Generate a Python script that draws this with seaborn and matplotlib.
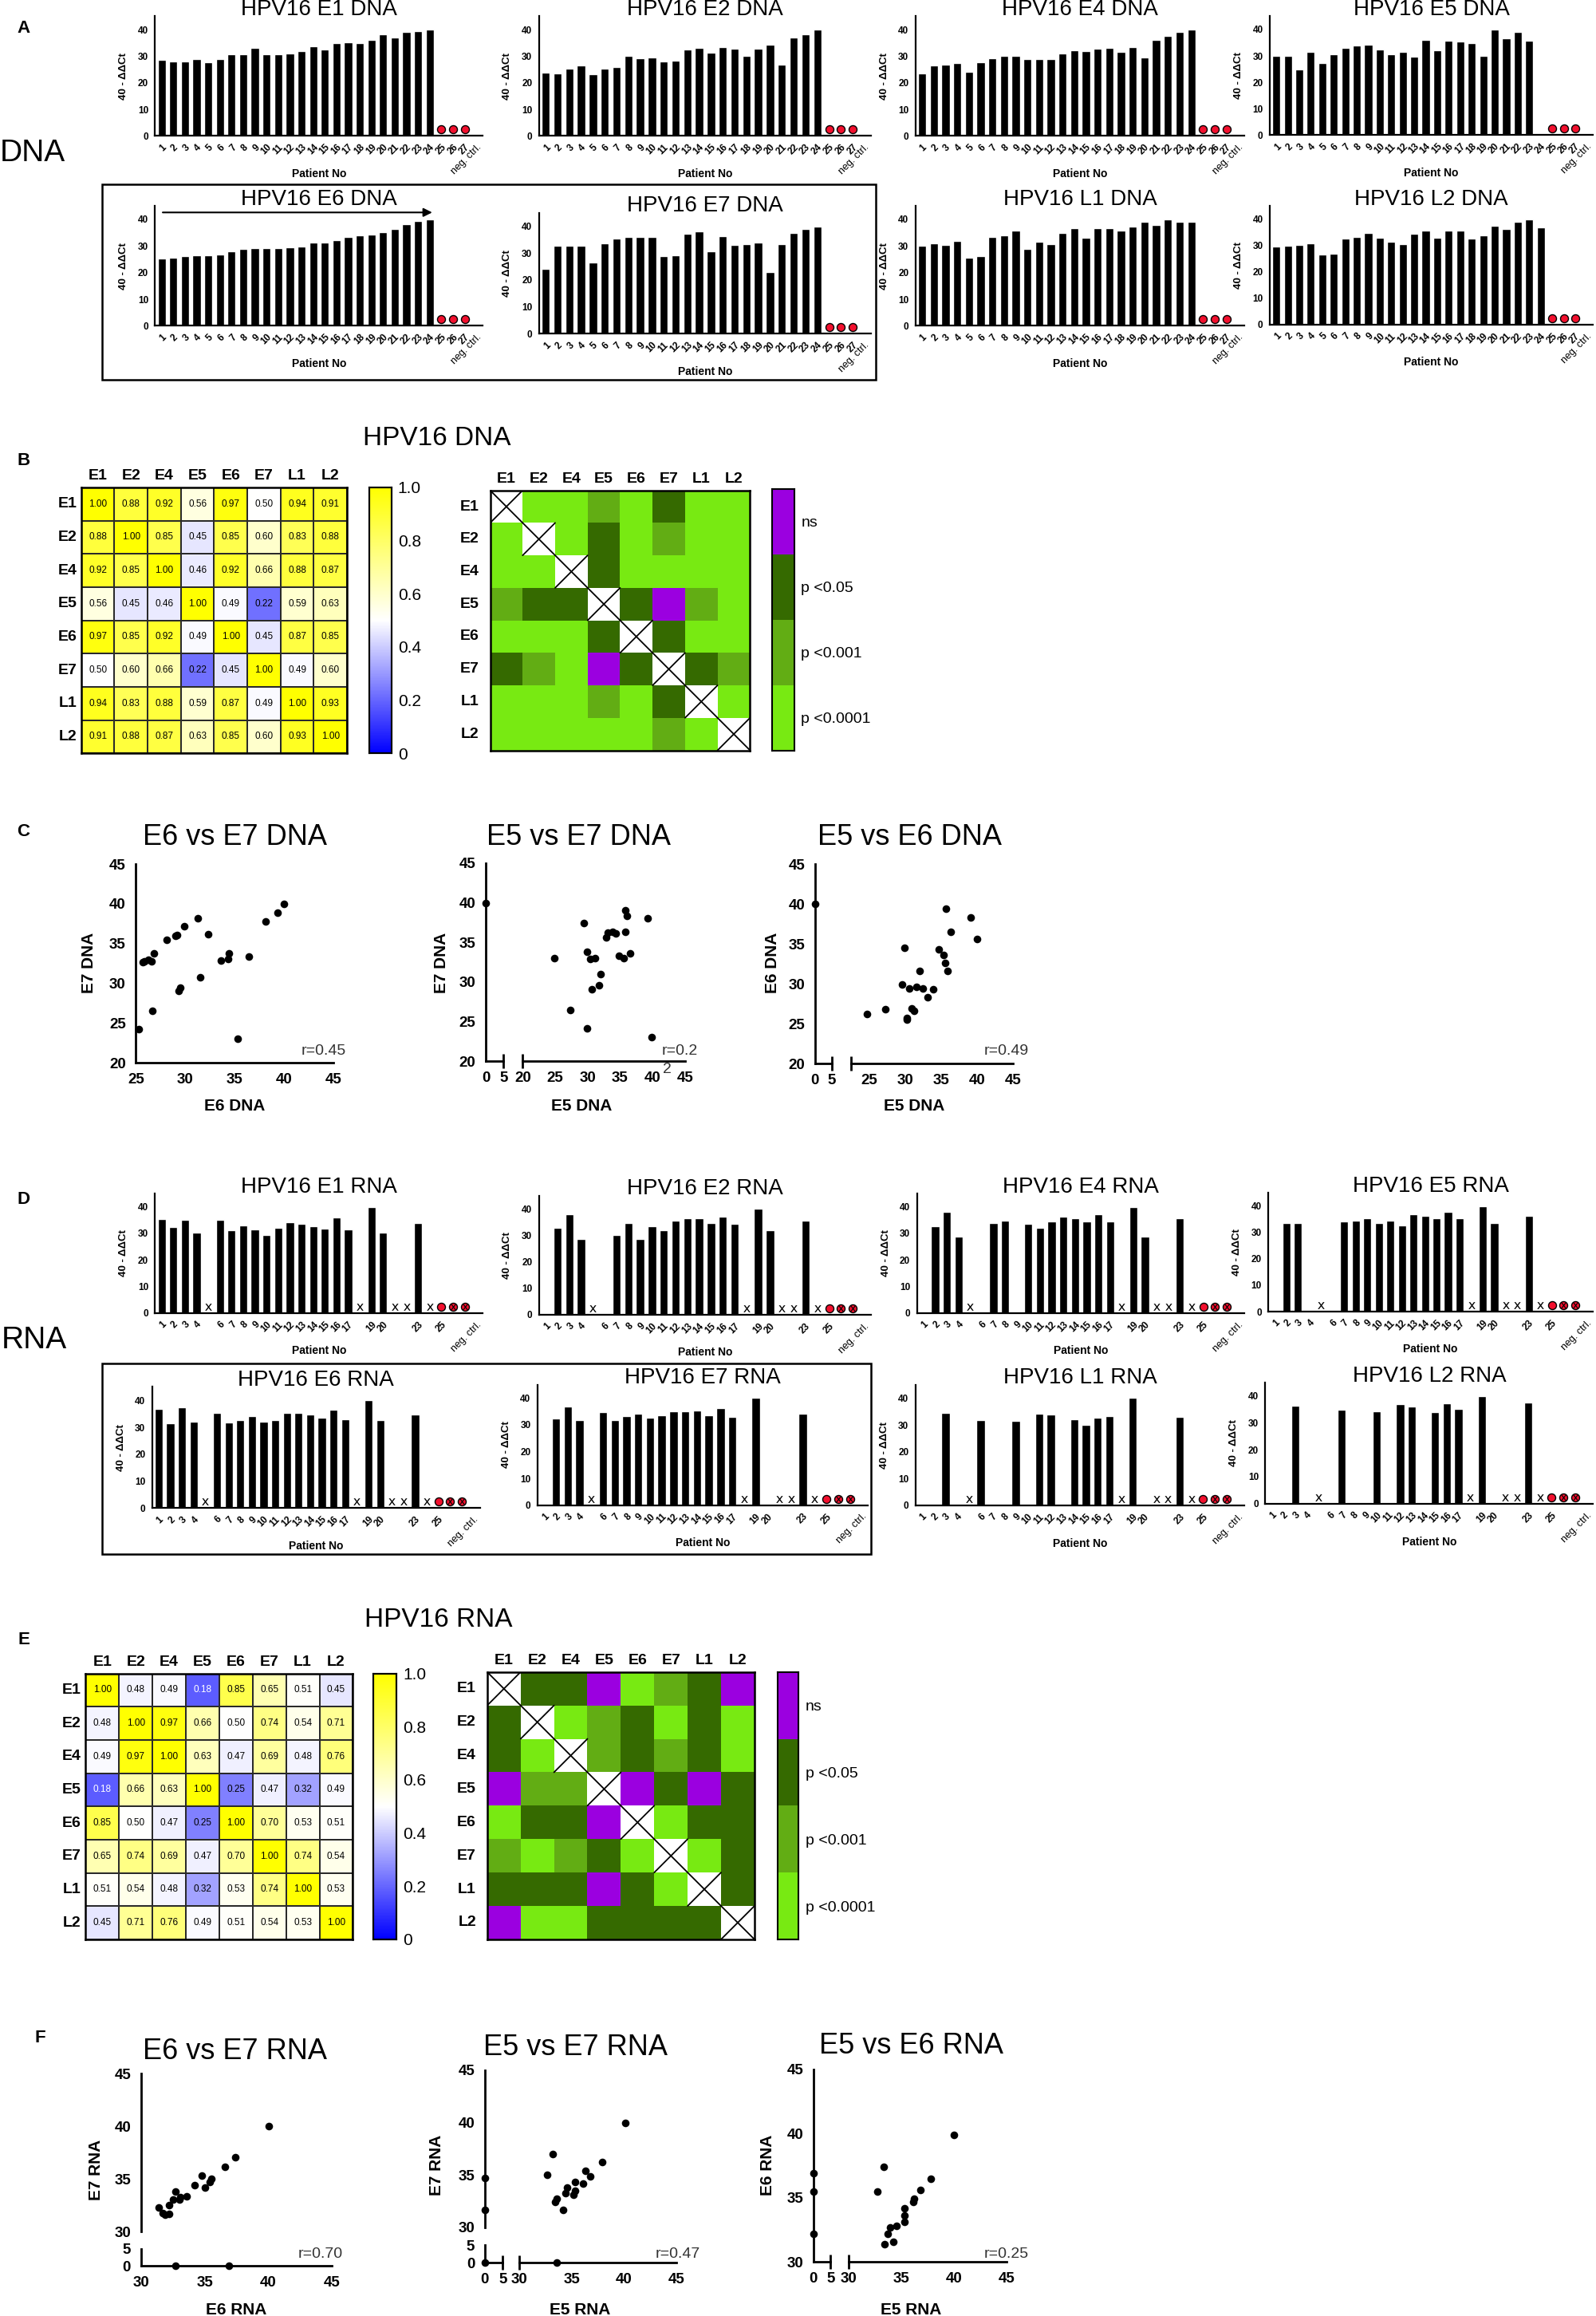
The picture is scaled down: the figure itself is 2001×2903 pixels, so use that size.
import numpy as np
import pandas as pd
import seaborn as sns
import matplotlib.pyplot as plt
from matplotlib.colors import LinearSegmentedColormap, ListedColormap
from matplotlib.patches import Rectangle

sns.set_theme(style='white')
plt.rcParams['font.family'] = ['Liberation Sans', 'DejaVu Sans']
plt.rcParams['text.color'] = 'black'
plt.rcParams['axes.edgecolor'] = 'black'
plt.rcParams['axes.labelcolor'] = 'black'
plt.rcParams['xtick.color'] = 'black'
plt.rcParams['ytick.color'] = 'black'

# ---- data ----
patients = list(range(1, 25))
neg_ctrl_pos = [25, 26, 27]
rna_nd_pos = [5, 18, 21, 22, 24]   # "x" = not detected

dna_e1 = [28.7, 28.1, 27.9, 29.0, 27.7, 29.0, 30.6, 30.8, 33.2, 30.7, 30.7, 31.0, 31.8, 33.6, 32.6, 34.9, 35.2, 34.9, 36.0, 38.3, 36.9, 39.1, 39.4, 40.0]
dna_e2 = [23.8, 23.5, 25.4, 26.6, 23.3, 25.3, 25.9, 30.2, 29.3, 29.6, 27.9, 28.4, 32.5, 33.2, 31.3, 33.5, 32.7, 30.0, 32.8, 34.2, 26.9, 37.0, 38.1, 40.0]
dna_e4 = [23.5, 26.6, 26.7, 27.3, 24.0, 27.8, 29.1, 30.2, 30.0, 28.8, 29.0, 28.8, 31.0, 32.1, 31.9, 32.8, 33.2, 31.5, 33.5, 29.5, 36.0, 37.5, 39.1, 40.0]
dna_e5 = [30.0, 30.1, 24.9, 31.4, 27.3, 30.7, 32.9, 33.9, 34.1, 32.5, 30.5, 31.6, 29.7, 36.0, 32.0, 35.8, 35.5, 34.7, 29.9, 40.0, 36.6, 39.2, 35.8, None]
dna_e6 = [25.3, 25.6, 26.1, 26.6, 26.6, 26.8, 28.1, 29.0, 29.1, 29.3, 29.3, 29.4, 29.7, 31.3, 31.3, 32.3, 33.4, 34.1, 34.3, 35.2, 36.3, 38.1, 39.3, 40.0]
dna_e7 = [24.0, 32.8, 32.8, 32.8, 26.4, 33.7, 35.5, 36.0, 36.0, 36.0, 28.9, 29.3, 37.2, 38.0, 30.8, 36.2, 32.9, 33.2, 33.8, 23.0, 33.4, 37.6, 38.9, 39.9]
dna_l1 = [30.2, 30.9, 30.5, 31.8, 25.6, 26.3, 33.4, 34.1, 35.8, 28.8, 31.5, 30.7, 35.0, 36.6, 33.1, 36.8, 36.8, 35.8, 37.2, 39.1, 38.0, 39.9, 39.0, 39.0]
dna_l2 = [29.5, 29.9, 30.1, 31.0, 26.5, 27.0, 32.6, 33.4, 34.8, 33.0, 31.5, 30.6, 34.4, 35.6, 33.0, 35.8, 35.8, 32.7, 34.0, 37.4, 36.4, 38.9, 39.9, 37.0]

rna_e1 = [35.5, 32.5, 35.1, 30.3, None, 35.0, 31.3, 32.9, 31.5, 29.4, 32.0, 34.3, 33.7, 32.7, 31.9, 35.9, 31.6, None, 40.0, 30.3, None, None, 34.0, None]
rna_e2 = [None, 32.7, 38.0, 28.7, None, None, 30.1, 34.7, 28.7, 33.4, 32.0, 35.5, 36.4, 36.4, 34.5, 37.1, 34.3, None, 40.0, 31.8, None, None, 35.5, None]
rna_e4 = [None, 32.8, 38.1, 28.9, None, None, 33.8, 34.8, None, 33.5, 32.1, 34.6, 36.2, 35.8, 34.5, 37.1, 34.5, None, 40.0, 28.7, None, None, 35.8, None]
rna_e5 = [None, 33.4, 33.4, None, None, None, 34.2, 34.3, 35.2, 33.6, 34.4, 32.6, 36.8, 36.2, 35.2, 37.8, 35.2, None, 40.0, 33.6, None, None, 36.2, None]
rna_e6 = [36.8, 31.4, 37.3, 32.2, None, 35.4, 31.9, 32.7, 34.3, 32.2, 32.6, 35.4, 35.5, 34.7, 33.6, 36.5, 33.1, None, 40.0, 32.7, None, None, 34.9, None]
rna_e7 = [None, 32.2, 36.9, 31.6, None, 34.6, 31.6, 33.2, 34.2, 32.6, 33.6, 35.0, 34.9, 35.3, 33.4, 36.1, 32.9, None, 40.0, None, None, None, 34.0, None]
rna_l1 = [None, None, 34.4, None, None, 31.8, None, None, 31.6, None, 34.1, 33.8, None, 32.2, 30.0, 32.6, 33.3, None, 40.0, None, None, None, 32.9, None]
rna_l2 = [None, None, 36.5, None, None, None, 34.9, None, None, 34.4, None, 37.0, 36.0, None, 33.9, 37.3, 35.2, None, 40.0, None, None, None, 37.5, None]

dna_ticks = [str(i) for i in range(1, 28)] + ['neg. ctrl.']
rna_ticks = ['1', '2', '3', '4', '', '6', '7', '8', '9', '10', '11', '12', '13', '14', '15', '16', '17',
             '', '19', '20', '', '', '23', '', '25', '', '', 'neg. ctrl.']

genes = ['E1', 'E2', 'E4', 'E5', 'E6', 'E7', 'L1', 'L2']
dna_corr = [[1.00, 0.88, 0.92, 0.56, 0.97, 0.50, 0.94, 0.91],
            [0.88, 1.00, 0.85, 0.45, 0.85, 0.60, 0.83, 0.88],
            [0.92, 0.85, 1.00, 0.46, 0.92, 0.66, 0.88, 0.87],
            [0.56, 0.45, 0.46, 1.00, 0.49, 0.22, 0.59, 0.63],
            [0.97, 0.85, 0.92, 0.49, 1.00, 0.45, 0.87, 0.85],
            [0.50, 0.60, 0.66, 0.22, 0.45, 1.00, 0.49, 0.60],
            [0.94, 0.83, 0.88, 0.59, 0.87, 0.49, 1.00, 0.93],
            [0.91, 0.88, 0.87, 0.63, 0.85, 0.60, 0.93, 1.00]]
rna_corr = [[1.00, 0.48, 0.49, 0.18, 0.85, 0.65, 0.51, 0.45],
            [0.48, 1.00, 0.97, 0.66, 0.50, 0.74, 0.54, 0.71],
            [0.49, 0.97, 1.00, 0.63, 0.47, 0.69, 0.48, 0.76],
            [0.18, 0.66, 0.63, 1.00, 0.25, 0.47, 0.32, 0.49],
            [0.85, 0.50, 0.47, 0.25, 1.00, 0.70, 0.53, 0.51],
            [0.65, 0.74, 0.69, 0.47, 0.70, 1.00, 0.74, 0.54],
            [0.51, 0.54, 0.48, 0.32, 0.53, 0.74, 1.00, 0.53],
            [0.45, 0.71, 0.76, 0.49, 0.51, 0.54, 0.53, 1.00]]

# significance: 0 = ns, 1 = p<0.05, 2 = p<0.001, 3 = p<0.0001, None = diagonal
sig_labels = ['ns', 'p <0.05', 'p <0.001', 'p <0.0001']
dna_sig = [[None, 3, 3, 2, 3, 1, 3, 3],
           [3, None, 3, 1, 3, 2, 3, 3],
           [3, 3, None, 1, 3, 3, 3, 3],
           [2, 1, 1, None, 1, 0, 2, 3],
           [3, 3, 3, 1, None, 1, 3, 3],
           [1, 2, 3, 0, 1, None, 1, 2],
           [3, 3, 3, 2, 3, 1, None, 3],
           [3, 3, 3, 3, 3, 2, 3, None]]
rna_sig = [[None, 1, 1, 0, 3, 2, 1, 0],
           [1, None, 3, 2, 1, 3, 1, 3],
           [1, 3, None, 2, 1, 2, 1, 3],
           [0, 2, 2, None, 0, 1, 0, 1],
           [3, 1, 1, 0, None, 3, 1, 1],
           [2, 3, 2, 1, 3, None, 3, 1],
           [1, 1, 1, 0, 1, 3, None, 1],
           [0, 3, 3, 1, 1, 1, 1, None]]

c1_e6 = [25.3, 25.7, 25.9, 26.3, 26.6, 26.8, 26.7, 28.1, 29.0, 29.2, 29.9, 29.3, 29.5, 31.3, 31.5, 32.3, 33.6, 34.3, 34.4, 35.3, 36.4, 38.1, 39.3, 40.0]
c1_e7 = [24.2, 32.7, 32.8, 33.0, 32.8, 33.8, 26.5, 35.5, 36.0, 36.1, 37.2, 29.1, 29.5, 38.2, 30.8, 36.2, 32.9, 33.1, 33.8, 23.0, 33.4, 37.8, 38.9, 40.0]
c2_e5 = [0.0, 24.9, 27.3, 29.4, 29.9, 29.9, 30.4, 30.7, 31.2, 31.7, 32.0, 32.8, 33.1, 33.8, 34.3, 34.8, 35.5, 35.8, 35.8, 36.1, 36.5, 39.2, 39.9]
c2_e7 = [40.0, 33.0, 26.5, 37.4, 24.2, 33.8, 32.9, 29.1, 33.0, 29.6, 31.0, 35.6, 36.2, 36.3, 36.1, 33.3, 33.0, 36.3, 39.1, 38.3, 33.6, 38.0, 23.0]
c3_e5 = [0.0, 24.7, 27.3, 29.6, 29.9, 30.2, 30.3, 30.6, 30.9, 31.3, 31.6, 32.0, 32.5, 33.1, 33.9, 34.7, 35.4, 35.6, 35.9, 35.7, 36.4, 39.1, 40.0]
c3_e6 = [40.0, 26.2, 26.8, 29.9, 34.5, 25.7, 25.5, 29.4, 26.9, 26.6, 29.6, 31.6, 29.4, 28.3, 29.3, 34.3, 33.6, 32.6, 31.6, 39.4, 36.5, 38.3, 35.6]

f1_e6 = [31.4, 31.7, 31.9, 32.2, 32.2, 32.5, 32.7, 33.0, 33.1, 33.6, 34.2, 34.8, 35.0, 35.4, 35.5, 36.6, 37.4, 40.0, 32.7, 36.9]
f1_e7 = [32.3, 31.8, 31.6, 31.7, 32.5, 33.1, 33.8, 33.1, 33.3, 33.4, 34.4, 35.3, 34.2, 34.7, 35.0, 36.2, 37.1, 40.0, 0.0, 0.0]
f2_e5 = [0.0, 0.0, 0.0, 32.7, 33.2, 33.4, 33.6, 34.2, 34.4, 34.6, 35.2, 35.3, 35.3, 36.1, 36.3, 36.8, 37.9, 40.1, 33.6]
f2_e7 = [34.7, 31.7, 0.0, 35.0, 37.0, 32.4, 32.7, 31.7, 33.3, 33.8, 33.1, 33.5, 34.3, 34.2, 35.4, 34.9, 36.2, 40.0, 0.0]
f3_e5 = [0.0, 0.0, 0.0, 32.7, 33.3, 33.4, 33.7, 33.9, 34.2, 34.5, 35.3, 35.3, 35.3, 36.1, 36.2, 36.8, 37.8, 40.0]
f3_e6 = [36.9, 35.5, 32.2, 35.5, 37.4, 31.4, 32.2, 32.7, 31.6, 32.8, 33.1, 33.6, 34.2, 34.7, 34.9, 35.6, 36.5, 39.9]

# ---- figure ----
fig = plt.figure(figsize=(20.01, 29.03), dpi=100)
W, H = 1081.0, 1568.0   # layout grid (reference at reduced scale)


def add_ax(x0, y0, x1, y1):
    return fig.add_axes([x0 / W, 1 - y1 / H, (x1 - x0) / W, (y1 - y0) / H])


def ftext(x, y, s, **kw):
    kw.setdefault('ha', 'center')
    kw.setdefault('va', 'center')
    fig.text(x / W, 1 - y / H, s, **kw)


def box(x0, y0, x1, y1):
    fig.add_artist(Rectangle((x0 / W, 1 - y1 / H), (x1 - x0) / W, (y1 - y0) / H,
                             transform=fig.transFigure, fill=False, lw=1.8, ec='black'))


marker_level = 2.4


def bar_panel(rect, values, title, rna=False, arrow=False):
    ax = add_ax(*rect)
    df = pd.DataFrame({'patient': patients, 'value': values}).dropna()
    sns.barplot(data=df, x='patient', y='value', native_scale=True, color='black',
                saturation=1, width=0.7, errorbar=None, ax=ax)
    sns.scatterplot(x=neg_ctrl_pos, y=[marker_level] * 3, color='#f2102e', edgecolor='black',
                    linewidth=1, s=52, ax=ax, clip_on=False, zorder=4)
    if rna:
        sns.scatterplot(x=rna_nd_pos, y=[marker_level] * len(rna_nd_pos), marker='$\\mathrm{x}$',
                        color='black', s=40, linewidth=0, ax=ax, zorder=4)
        sns.scatterplot(x=neg_ctrl_pos[1:], y=[marker_level] * 2, marker='$\\mathrm{x}$',
                        color='black', s=26, linewidth=0, ax=ax, zorder=5)
    ax.set_xlim(0.43, 28.55)
    ax.set_ylim(0, 45)
    ax.set_yticks([0, 10, 20, 30, 40])
    ax.set_yticklabels(['0', '10', '20', '30', '40'], fontsize=8.5, fontweight='bold')
    ax.set_xticks(range(1, 29))
    ax.set_xticklabels(rna_ticks if rna else dna_ticks, rotation=45, ha='right',
                       rotation_mode='anchor', fontsize=8.5, fontweight='bold')
    last = ax.get_xticklabels()[-1]
    last.set_fontweight('normal')
    last.set_fontsize(9)
    ax.tick_params(axis='both', direction='out', length=4, width=1.4, pad=2)
    sns.despine(ax=ax)
    for s in ['left', 'bottom']:
        ax.spines[s].set_linewidth(1.6)
    ax.set_title(title, fontsize=20, pad=1)
    ax.set_xlabel('Patient No', fontsize=10, fontweight='bold')
    ax.xaxis.set_label_coords(0.5, -0.27)
    ax.set_ylabel('40 - ΔΔCt', fontsize=9.5, fontweight='bold')
    ax.yaxis.set_label_coords(-0.08, 0.5)
    if arrow:
        ax.annotate('', xy=(24.4, 42.6), xytext=(0.9, 42.6),
                    arrowprops=dict(arrowstyle='-|>', color='black', lw=1.5, mutation_scale=16),
                    annotation_clip=False)
    return ax


# panel A: DNA
bar_panel((105, 11, 327, 92), dna_e1, 'HPV16 E1 DNA')
bar_panel((365, 11, 590, 92), dna_e2, 'HPV16 E2 DNA')
bar_panel((620, 11, 843, 92), dna_e4, 'HPV16 E4 DNA')
bar_panel((860, 11, 1079, 91.5), dna_e5, 'HPV16 E5 DNA')
bar_panel((105, 139.5, 327, 220.6), dna_e6, 'HPV16 E6 DNA', arrow=True)
bar_panel((365, 144, 590, 226), dna_e7, 'HPV16 E7 DNA')
bar_panel((620, 139.5, 843, 220.6), dna_l1, 'HPV16 L1 DNA')
bar_panel((860, 139.5, 1079, 219.8), dna_l2, 'HPV16 L2 DNA')
box(69, 125, 593, 257)

# panel D: RNA
bar_panel((105, 808, 327, 889), rna_e1, 'HPV16 E1 RNA', rna=True)
bar_panel((365, 809.5, 590, 890), rna_e2, 'HPV16 E2 RNA', rna=True)
bar_panel((621, 808, 843, 889), rna_e4, 'HPV16 E4 RNA', rna=True)
bar_panel((859, 807.5, 1079, 888), rna_e5, 'HPV16 E5 RNA', rna=True)
bar_panel((103, 939, 325, 1021), rna_e6, 'HPV16 E6 RNA', rna=True)
bar_panel((364, 937.4, 588, 1019), rna_e7, 'HPV16 E7 RNA', rna=True)
bar_panel((620, 937.5, 843, 1019.2), rna_l1, 'HPV16 L1 RNA', rna=True)
bar_panel((857, 936, 1079, 1018), rna_l2, 'HPV16 L2 RNA', rna=True)
box(69, 923, 590, 1052)

# heatmaps
corr_cmap = LinearSegmentedColormap.from_list('bwy', ['#0000ff', '#ffffff', '#ffff00'])
sig_cmap = ListedColormap(['#9b00e0', '#356a00', '#62ad14', '#78ea12'])


def corr_panel(rect, cbar_rect, matrix):
    ax = add_ax(*rect)
    cax = add_ax(*cbar_rect)
    df = pd.DataFrame(matrix, index=genes, columns=genes)
    sns.heatmap(df, ax=ax, cbar_ax=cax, cmap=corr_cmap, vmin=0, vmax=1, annot=True, fmt='.2f',
                annot_kws={'fontsize': 8.5, 'color': 'black'}, linewidths=1.2, linecolor='#2a2a2a')
    for t in ax.texts:
        if float(t.get_text()) < 0.2:
            t.set_color('white')
    ax.xaxis.tick_top()
    ax.tick_params(length=0, pad=4)
    ax.set_xticklabels(genes, fontsize=14, fontweight='bold', rotation=0)
    ax.set_yticklabels(genes, fontsize=14, fontweight='bold', rotation=0)
    for s in ax.spines.values():
        s.set_visible(True)
        s.set_linewidth(1.8)
    cax.set_yticks([0, 0.2, 0.4, 0.6, 0.8, 1.0])
    cax.set_yticklabels(['0', '0.2', '0.4', '0.6', '0.8', '1.0'], fontsize=15)
    cax.tick_params(direction='in', length=4, width=1.2, left=True, right=True, pad=6)
    for s in cax.spines.values():
        s.set_visible(True)
        s.set_linewidth(1.5)
    ax.collections[0].colorbar.outline.set_linewidth(1.5)


def sig_panel(rect, legend_rect, matrix):
    ax = add_ax(*rect)
    df = pd.DataFrame(matrix, index=genes, columns=genes, dtype=float)
    sns.heatmap(df, ax=ax, cmap=sig_cmap, vmin=-0.5, vmax=3.5, cbar=False, linewidths=0)
    for i in range(len(genes)):
        ax.plot([i, i + 1], [i, i + 1], color='black', lw=1.3)
        ax.plot([i, i + 1], [i + 1, i], color='black', lw=1.3)
    ax.xaxis.tick_top()
    ax.tick_params(length=0, pad=4)
    ax.set_xticklabels(genes, fontsize=14, fontweight='bold', rotation=0)
    ax.set_yticklabels(genes, fontsize=14, fontweight='bold', rotation=0)
    ax.tick_params(axis='y', pad=10)
    for s in ax.spines.values():
        s.set_visible(True)
        s.set_linewidth(1.8)
    lax = add_ax(*legend_rect)
    leg = pd.DataFrame({'p': [0, 1, 2, 3]}, index=sig_labels)
    sns.heatmap(leg, ax=lax, cmap=sig_cmap, vmin=-0.5, vmax=3.5, cbar=False)
    lax.set_xticks([])
    lax.yaxis.tick_right()
    lax.set_yticklabels(sig_labels, rotation=0, fontsize=14)
    lax.tick_params(axis='y', direction='in', length=4, width=1.2, left=True, right=True, pad=6)
    for s in lax.spines.values():
        s.set_visible(True)
        s.set_linewidth(1.5)


corr_panel((55, 330, 235, 510), (250, 330, 265, 510), dna_corr)
sig_panel((332, 332, 508, 508), (523, 331, 538, 508), dna_sig)
corr_panel((58, 1133, 239, 1313), (253, 1133, 268.5, 1313), rna_corr)
sig_panel((330, 1132, 511, 1313), (526.5, 1132, 541, 1313), rna_sig)
ftext(296, 297, 'HPV16 DNA', fontsize=24)
ftext(297, 1097, 'HPV16 RNA', fontsize=24)


# scatter plots (broken axes built from several small axes)
def scatter_grid(xs, ys, cols, rows):
    xs = np.asarray(xs, float)
    ys = np.asarray(ys, float)
    for ci, (xl, xr, xlo, xhi, xt) in enumerate(cols):
        for ri, (yt, yb, ylo, yhi, ytk) in enumerate(rows):
            ax = add_ax(xl, yt, xr, yb)
            ax.patch.set_alpha(0)
            m = (xs >= xlo) & (xs <= xhi) & (ys >= ylo) & (ys <= yhi)
            sns.scatterplot(x=xs[m], y=ys[m], color='black', s=48, linewidth=0, ax=ax,
                            clip_on=False, zorder=4)
            ax.set_xlim(xlo, xhi)
            ax.set_ylim(ylo, yhi)
            first_col = ci == 0
            last_row = ri == len(rows) - 1
            for s in ['top', 'right']:
                ax.spines[s].set_visible(False)
            ax.spines['left'].set_visible(first_col)
            ax.spines['bottom'].set_visible(last_row)
            for s in ['left', 'bottom']:
                ax.spines[s].set_linewidth(2)
            ax.set_xticks(xt if last_row else [])
            ax.set_yticks(ytk if first_col else [])
            ax.tick_params(direction='out', length=6, width=2, labelsize=13.5, pad=3)
            for lab in ax.get_xticklabels() + ax.get_yticklabels():
                lab.set_fontweight('bold')
            if last_row and len(cols) > 1:
                xc = 1 if ci == 0 else 0
                ax.plot([xc], [0], marker='|', markersize=13, mew=2, color='black',
                        transform=ax.transAxes, clip_on=False)


t5 = [0, 5]
scatter_grid(c1_e6, c1_e7, [(92, 226, 25, 45, range(25, 46, 5))],
             [(585, 719.6, 20, 45, range(20, 46, 5))])
scatter_grid(c2_e5, c2_e7, [(329, 341, 0, 5, t5), (354, 464, 20, 45, range(20, 46, 5))],
             [(584.4, 718.5, 20, 45, range(20, 46, 5))])
scatter_grid(c3_e5, c3_e6, [(552, 563.5, 0, 5, t5), (576.5, 686, 22.5, 45, range(25, 46, 5))],
             [(585, 720, 20, 45, range(20, 46, 5))])
scatter_grid(f1_e6, f1_e7, [(95.4, 225, 30, 45, range(30, 46, 5))],
             [(1404, 1511, 30, 45, range(30, 46, 5)), (1522.5, 1534, 0, 5, t5)])
scatter_grid(f2_e5, f2_e7, [(328.3, 340.5, 0, 5, t5), (351.6, 458.3, 30, 45, range(30, 46, 5))],
             [(1401.6, 1508, 30, 45, range(30, 46, 5)), (1520, 1532, 0, 5, t5)])
scatter_grid(f3_e5, f3_e6, [(551, 562.6, 0, 5, t5), (575, 682, 30, 45, range(30, 46, 5))],
             [(1401, 1531.5, 30, 45, range(30, 46, 5))])

# scatter titles and labels
lab = dict(fontsize=15, fontweight='bold')
ftext(159, 567, 'E6 vs E7 DNA', fontsize=26)
ftext(392, 567, 'E5 vs E7 DNA', fontsize=26)
ftext(616, 567, 'E5 vs E6 DNA', fontsize=26)
ftext(159, 749, 'E6 DNA', **lab)
ftext(394, 749, 'E5 DNA', **lab)
ftext(619, 749, 'E5 DNA', **lab)
ftext(60, 652, 'E7 DNA', rotation=90, **lab)
ftext(299, 652, 'E7 DNA', rotation=90, **lab)
ftext(523, 652, 'E6 DNA', rotation=90, **lab)
rk = dict(fontsize=14, color='#333333', ha='right')
ftext(234.6, 711.5, 'r=0.45', **rk)
ftext(472.6, 711.5, 'r=0.2', **rk)
ftext(451.6, 724, '2', fontsize=14, color='#333333')
ftext(696.5, 711.5, 'r=0.49', **rk)

ftext(159, 1389, 'E6 vs E7 RNA', fontsize=26)
ftext(390, 1386, 'E5 vs E7 RNA', fontsize=26)
ftext(617, 1385, 'E5 vs E6 RNA', fontsize=26)
ftext(160, 1564, 'E6 RNA', **lab)
ftext(393, 1564, 'E5 RNA', **lab)
ftext(617, 1564, 'E5 RNA', **lab)
ftext(65, 1469, 'E7 RNA', rotation=90, **lab)
ftext(296, 1466, 'E7 RNA', rotation=90, **lab)
ftext(520, 1466, 'E6 RNA', rotation=90, **lab)
ftext(232, 1526, 'r=0.70', **rk)
ftext(474, 1526, 'r=0.47', **rk)
ftext(697, 1526, 'r=0.25', **rk)

# panel letters and side labels
pl = dict(fontsize=16, fontweight='bold')
ftext(16, 19, 'A', **pl)
ftext(16, 312, 'B', **pl)
ftext(16, 563, 'C', **pl)
ftext(16, 812, 'D', **pl)
ftext(16, 1110, 'E', **pl)
ftext(27, 1380, 'F', **pl)
ftext(22, 103.5, 'DNA', fontsize=28)
ftext(23, 907.6, 'RNA', fontsize=28)

fig.savefig('out.png', dpi=100)
